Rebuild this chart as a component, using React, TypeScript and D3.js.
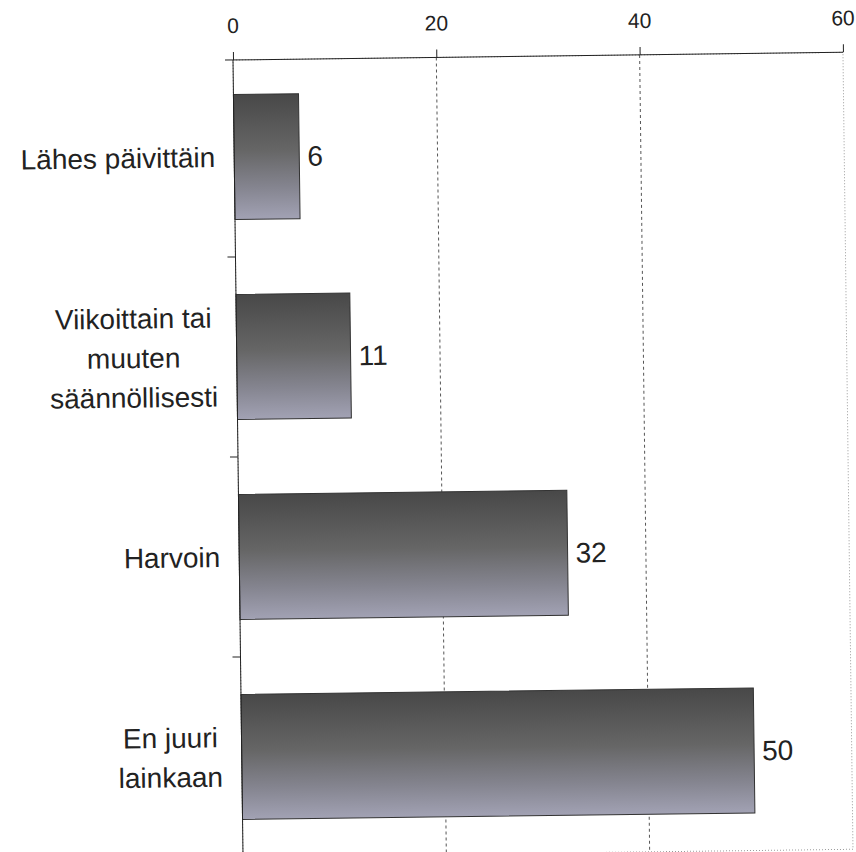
import React, { useEffect, useRef } from 'react';
import * as d3 from 'd3';

const categories = ['Lähes päivittäin', 'Viikoittain tai muuten säännöllisesti', 'Harvoin', 'En juuri lainkaan'];
const labelLines = [['Lähes päivittäin'], ['Viikoittain tai', 'muuten', 'säännöllisesti'], ['Harvoin'], ['En juuri', 'lainkaan']];
const values = [6.4, 11.2, 32.3, 50.4];
const xTicks = [0, 20, 40, 60];

const W = 856;
const H = 852;
const FONT = '"Liberation Sans", Arial, sans-serif';

export default function App() {
  const ref = useRef<SVGSVGElement>(null);

  useEffect(() => {
    const svg = d3.select(ref.current);
    svg.selectAll('*').remove();

    const left = 233, top = 60, right = 843, bottom = 857;

    const defs = svg.append('defs');
    const grad = defs.append('linearGradient')
      .attr('id', 'barGrad')
      .attr('x1', 0).attr('y1', 0).attr('x2', 0).attr('y2', 1);
    grad.append('stop').attr('offset', '0%').attr('stop-color', '#484848');
    grad.append('stop').attr('offset', '45%').attr('stop-color', '#666666');
    grad.append('stop').attr('offset', '75%').attr('stop-color', '#858590');
    grad.append('stop').attr('offset', '100%').attr('stop-color', '#a2a2b4');

    // the scan is a bit tilted
    const g = svg.append('g').attr('transform', `rotate(-0.72, ${left}, ${top})`);

    const x = d3.scaleLinear().domain([0, 60]).range([left, right]);
    const y = d3.scaleBand<string>()
      .domain(categories)
      .range([top - 3, bottom])
      .paddingInner(0.375)
      .paddingOuter(0.1875);

    // plot area border
    g.append('rect')
      .attr('x', left).attr('y', top)
      .attr('width', right - left).attr('height', bottom - top)
      .attr('fill', 'none')
      .attr('stroke', '#999')
      .attr('stroke-dasharray', '1,2');

    // gridlines
    g.selectAll('.grid')
      .data(xTicks.filter(t => t > 0 && t < 60))
      .enter()
      .append('line')
      .attr('x1', d => x(d)).attr('x2', d => x(d))
      .attr('y1', top).attr('y2', bottom)
      .attr('stroke', '#555')
      .attr('stroke-width', 1)
      .attr('stroke-dasharray', '3,3');

    // bars
    g.selectAll('.bar')
      .data(values)
      .enter()
      .append('rect')
      .attr('x', x(0))
      .attr('y', (d, i) => y(categories[i])!)
      .attr('width', d => x(d) - x(0))
      .attr('height', y.bandwidth())
      .attr('fill', 'url(#barGrad)')
      .attr('stroke', '#333')
      .attr('stroke-width', 1);

    // value labels
    g.selectAll('.val')
      .data(values)
      .enter()
      .append('text')
      .attr('x', d => x(d) + 8)
      .attr('y', (d, i) => y(categories[i])! + y.bandwidth() / 2)
      .attr('dy', '0.35em')
      .attr('font-family', FONT)
      .attr('font-size', 28)
      .attr('fill', '#222')
      .text(d => d3.format('.0f')(d));

    // top axis
    const xAxis = g.append('g').attr('transform', `translate(0,${top})`)
      .call(d3.axisTop(x).tickValues(xTicks).tickSize(8).tickPadding(19).tickFormat(d3.format('d')));
    xAxis.attr('font-size', null).attr('font-family', null);
    xAxis.select('.domain').attr('stroke', '#222').attr('d', `M${left - 8},0H${right}`);
    xAxis.selectAll('line').attr('stroke', '#222');
    xAxis.selectAll('text')
      .attr('font-family', FONT)
      .attr('font-size', 21)
      .attr('fill', '#222');

    // left axis with category boundary ticks
    const boundaries = d3.range(categories.length).map(i => top - 3 + i * y.step());
    g.append('line')
      .attr('x1', left).attr('x2', left)
      .attr('y1', top).attr('y2', bottom)
      .attr('stroke', '#222');
    g.selectAll('.ytick')
      .data(boundaries.slice(1))
      .enter()
      .append('line')
      .attr('x1', left - 8).attr('x2', left)
      .attr('y1', d => d).attr('y2', d => d)
      .attr('stroke', '#222');

    // category labels: block right-aligned, lines centered inside block
    const lineH = 39.5;
    labelLines.forEach((lines, i) => {
      const cy = y(categories[i])! + y.bandwidth() / 2;
      const t = g.append('text')
        .attr('font-family', FONT)
        .attr('font-size', 28)
        .attr('fill', '#222')
        .attr('text-anchor', 'middle');
      const spans = lines.map((ln, k) =>
        t.append('tspan')
          .attr('y', cy + (k - (lines.length - 1) / 2) * lineH)
          .attr('dy', '0.35em')
          .text(ln)
      );
      const maxW = d3.max(spans, s => (s.node() as SVGTextContentElement).getComputedTextLength()) || 0;
      const cx = left - 19 - maxW / 2;
      spans.forEach(s => s.attr('x', cx));
    });
  }, []);

  return (
    <svg
      ref={ref}
      width={W}
      height={H}
      style={{ position: 'absolute', left: 0, top: 0, background: '#fff' }}
    />
  );
}
